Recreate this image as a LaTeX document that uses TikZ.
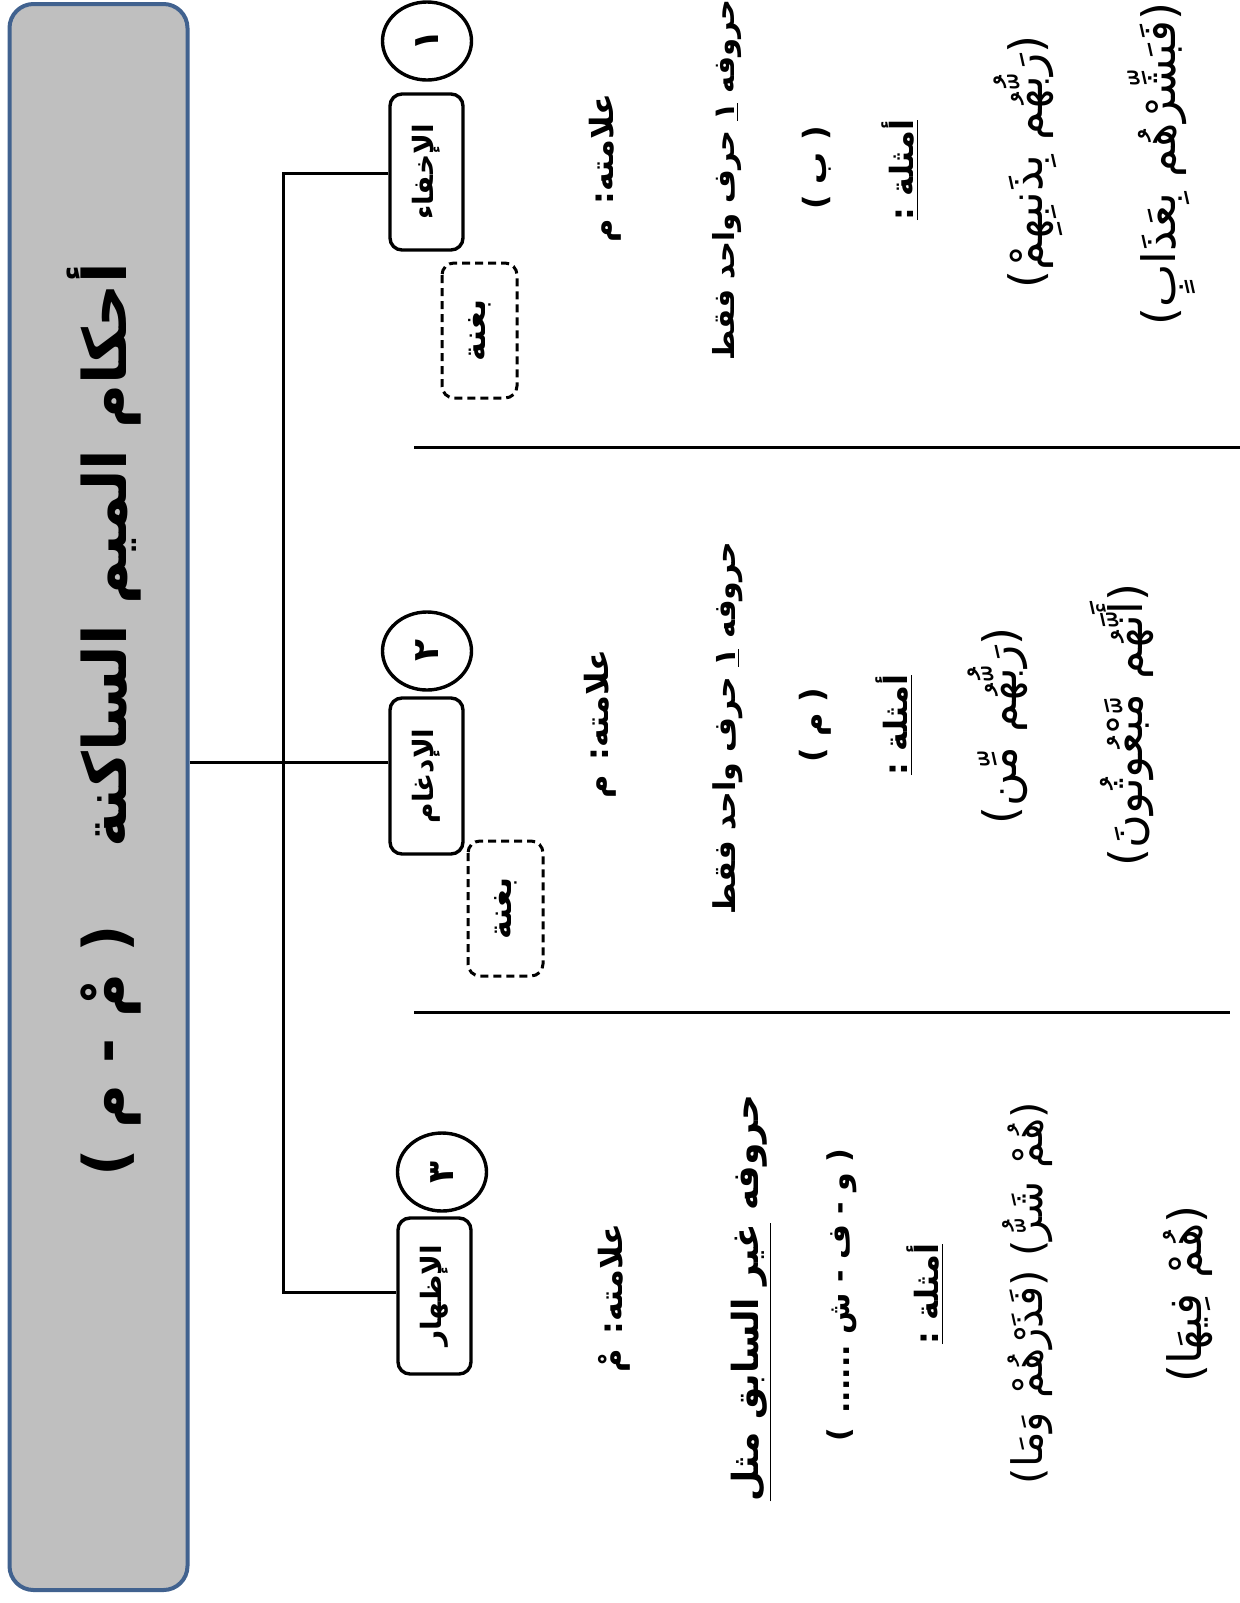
\documentclass[tikz,border=0pt]{standalone}
\usepackage{fontspec}
\usetikzlibrary{shapes.geometric}
\TeXXeTstate=1
\newfontfamily\arfont[Script=Arabic]{DejaVu Sans}
\definecolor{titlefill}{HTML}{BFBFBF}
\definecolor{titleedge}{HTML}{41628F}
\begin{document}
\begin{tikzpicture}[x=0.5pt,y=-0.5pt,
  rt/.style={rotate=90, inner sep=1pt},
  hd/.style={rt, font={\arfont\bfseries\fontsize{16}{19}\selectfont}},
  ex/.style={rt, font={\arfont\fontsize{23}{27}\selectfont}},
  lbl/.style={rt, draw, line width=1.7pt, rounded corners=6pt, minimum width=78pt, minimum height=36.5pt, font={\arfont\bfseries\fontsize{14}{16}\selectfont}},
  num/.style={rt, draw, ellipse, line width=1.7pt, minimum width=39pt, minimum height=44.5pt, inner sep=0pt, font={\arfont\bfseries\fontsize{18}{20}\selectfont}},
  ghunna/.style={rt, draw, line width=1.5pt, dash pattern=on 4pt off 2.5pt, rounded corners=6pt, minimum width=67.5pt, minimum height=37.5pt, font={\arfont\bfseries\fontsize{16}{18}\selectfont}},
  conn/.style={line width=1.5pt},
  sep/.style={line width=1.5pt}
]
\useasboundingbox (0,0) rectangle (1240,1603);
\fill[white] (0,0) rectangle (1240,1603);

% title
\node[draw=titleedge, fill=titlefill, line width=2pt, rounded corners=12pt, minimum width=89pt, minimum height=793pt, inner sep=0pt] (titlebox) at (98.5,797) {};
\node[rt, font={\arfont\bfseries\fontsize{30}{36}\selectfont}] (title) at (104,720) {\beginR أحكام الميم الساكنة\hspace{1.3em}( مْ - م )\endR};

% boxes
\node[lbl] (b1) at (426.5,172) {\beginR الإخفاء\endR};
\node[lbl] (b2) at (426.5,776) {\beginR الإدغام\endR};
\node[lbl] (b3) at (434.5,1296) {\beginR الإظهار\endR};
\node[num] (c1) at (427,41) {١};
\node[num] (c2) at (427,651) {٢};
\node[num] (c3) at (442,1172) {٣};
\node[ghunna] (g1) at (479.5,330.5) {\beginR بغنة\endR};
\node[ghunna] (g2) at (505.5,908.5) {\beginR بغنة\endR};

% connectors
\coordinate (j) at (283,762);
\coordinate (bt) at (283,173);
\coordinate (bb) at (283,1292);
\draw[conn] (titlebox.east |- j) -- (b2.north |- j);
\draw[conn] (b1.north |- bt) -- (bt) -- (bb) -- (b3.north |- bb);

% separators
\coordinate (s1a) at (414,447);
\coordinate (s1b) at (1240,447);
\coordinate (s2a) at (414,1012);
\coordinate (s2b) at (1230,1012);
\draw[sep] (s1a) -- (s1b);
\draw[sep] (s2a) -- (s2b);

% column 1
\node[hd] (a1) at (605,168) {\beginR علامته: م\endR};
\node[hd, font={\arfont\bfseries\fontsize{14.5}{18}\selectfont}] (h1) at (727,180) {\beginR حروفه \underline{١} حرف واحد فقط\endR};
\node[hd] (l1) at (817,168) {\beginR( ب )\endR};
\node[hd] (m1) at (900,170) {\beginR\underline{\beginR أمثلة :\endR}\endR};
\node[ex] (e11) at (1028,162) {\beginR(رَبُّهُم بِذَنبِهِمْ)\endR};
\node[ex] (e12) at (1162,164) {\beginR(فَبَشِّرْهُم بِعَذَابٍ)\endR};

% column 2
\node[hd] (a2) at (600,724) {\beginR علامته: م\endR};
\node[hd, font={\arfont\bfseries\fontsize{15}{18}\selectfont}] (h2) at (728,728) {\beginR حروفه \underline{١} حرف واحد فقط\endR};
\node[hd] (l2) at (815,725) {\beginR( م )\endR};
\node[hd] (m2) at (894,725) {\beginR\underline{\beginR أمثلة :\endR}\endR};
\node[ex] (e21) at (998,726) {\beginR(رَبُّهُم مِّن)\endR};
\node[ex] (e22) at (1122,725) {\beginR(أَنَّهُم مَّبْعُوثُونَ)\endR};

% column 3
\node[hd] (a3) at (614,1298) {\beginR علامته: مْ\endR};
\node[hd, font={\arfont\bfseries\fontsize{18}{22}\selectfont}] (h3) at (751,1298) {\beginR حروفه \underline{\beginR غير السابق مثل\endR}\endR};
\node[hd, font={\arfont\bfseries\fontsize{15}{18}\selectfont}] (l3) at (842,1295) {\beginR( و - ف - ش ...... )\endR};
\node[hd] (m3) at (925,1294) {\beginR\underline{\beginR أمثلة :\endR}\endR};
\node[ex, font={\arfont\fontsize{21}{25}\selectfont}] (e31) at (1028,1293) {\beginR(هُمْ شَرُّ) (فَذَرْهُمْ وَمَا)\endR};
\node[ex] (e32) at (1188,1294) {\beginR(هُمْ فِيهَا)\endR};
\end{tikzpicture}
\end{document}
